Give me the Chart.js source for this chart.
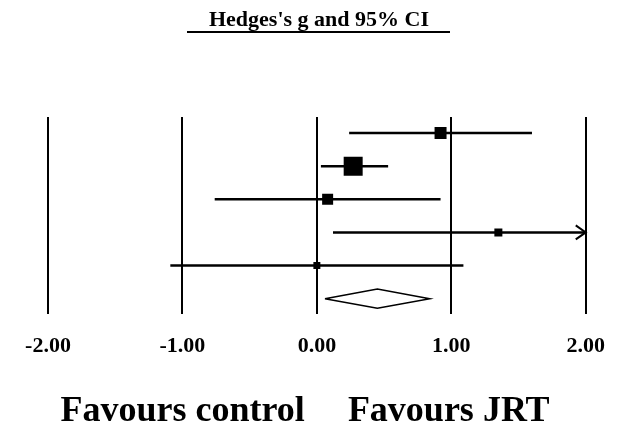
<!DOCTYPE html>
<html>
<head>
<meta charset="utf-8">
<script src="https://cdn.jsdelivr.net/npm/chart.js@4.4.1/dist/chart.umd.min.js"></script>
<style>
  html, body { margin: 0; padding: 0; background: #fff; }
</style>
</head>
<body>
<canvas id="myChart" width="625" height="430"></canvas>
<script>
// study rows (top to bottom), Hedges's g with 95% CI
var studyRows = [1, 2, 3, 4, 5];
var effect = [0.92, 0.27, 0.08, 1.35, 0.00];
var lower = [0.24, 0.03, -0.76, 0.12, -1.09];
var upper = [1.60, 0.53, 0.92, 2.60, 1.09];
var weights = [19.5, 48.9, 16.4, 8.7, 6.6];   // relative weight (%)

// pooled estimate
var summaryRow = 6;
var summaryEst = 0.45;
var summaryLo = 0.06;
var summaryHi = 0.84;

var xTicks = [-2, -1, 0, 1, 2];
var titleText = "Hedges's g and 95% CI";
var leftLabel = 'Favours control';
var rightLabel = 'Favours JRT';

var xMin = xTicks[0], xMax = xTicks[xTicks.length - 1];
var serif = '"Liberation Serif", "Times New Roman", serif';

var datasets = [];

// CI whiskers
studyRows.forEach(function(row, i) {
    datasets.push({
        data: [{x: Math.max(lower[i], xMin), y: row}, {x: Math.min(upper[i], xMax), y: row}],
        showLine: true,
        borderColor: '#000',
        borderWidth: 2.5,
        pointRadius: 0
    });
});

// weighted squares
datasets.push({
    data: studyRows.map(function(row, i) { return {x: effect[i], y: row}; }),
    pointStyle: 'rect',
    pointRadius: weights.map(function(w) { return 1.92 * Math.sqrt(w); }),
    backgroundColor: '#000',
    borderColor: '#000',
    borderWidth: 0
});

// summary diamond
var dh = 0.29;
datasets.push({
    data: [
        {x: summaryLo, y: summaryRow},
        {x: summaryEst, y: summaryRow - dh},
        {x: summaryHi, y: summaryRow},
        {x: summaryEst, y: summaryRow + dh},
        {x: summaryLo, y: summaryRow}
    ],
    showLine: true,
    borderColor: '#000',
    borderWidth: 1.5,
    pointRadius: 0,
    fill: false
});

var forestExtras = {
    id: 'forestExtras',
    afterDraw: function(chart) {
        var ctx = chart.ctx;
        var xs = chart.scales.x, ys = chart.scales.y;
        ctx.save();
        ctx.fillStyle = '#000';
        ctx.strokeStyle = '#000';

        // title with underline
        ctx.font = 'bold 22px ' + serif;
        ctx.textAlign = 'center';
        ctx.textBaseline = 'alphabetic';
        ctx.fillText(titleText, 319, 26);
        ctx.lineWidth = 2;
        ctx.beginPath();
        ctx.moveTo(187, 32);
        ctx.lineTo(450, 32);
        ctx.stroke();

        // arrows where the CI runs past the axis
        studyRows.forEach(function(row, i) {
            var py = ys.getPixelForValue(row);
            if (upper[i] > xMax) {
                var px = xs.getPixelForValue(xMax);
                ctx.lineWidth = 2;
                ctx.beginPath();
                ctx.moveTo(px - 10, py - 7);
                ctx.lineTo(px, py);
                ctx.lineTo(px - 10, py + 7);
                ctx.stroke();
            }
            if (lower[i] < xMin) {
                var qx = xs.getPixelForValue(xMin);
                ctx.lineWidth = 2;
                ctx.beginPath();
                ctx.moveTo(qx + 10, py - 7);
                ctx.lineTo(qx, py);
                ctx.lineTo(qx + 10, py + 7);
                ctx.stroke();
            }
        });

        // favours labels
        var x0 = xs.getPixelForValue(0);
        ctx.font = 'bold 36px ' + serif;
        ctx.textAlign = 'right';
        ctx.fillText(leftLabel, x0 - 12, 421);
        ctx.textAlign = 'left';
        ctx.fillText(rightLabel, x0 + 31, 421);
        ctx.restore();
    }
};

new Chart('myChart', {
    type: 'scatter',
    data: { datasets: datasets },
    options: {
        responsive: false,
        animation: false,
        layout: { padding: { left: 48, right: 38, top: 117, bottom: 50 } },
        plugins: {
            legend: { display: false },
            tooltip: { enabled: false },
            title: { display: false }
        },
        scales: {
            x: {
                type: 'linear',
                min: xMin,
                max: xMax,
                afterBuildTicks: function(axis) {
                    axis.ticks = xTicks.map(function(v) { return {value: v}; });
                },
                ticks: {
                    color: '#000',
                    padding: 20,
                    font: { family: serif, size: 22, weight: 'bold' },
                    callback: function(v) { return Number(v).toFixed(2); }
                },
                grid: { color: '#000', lineWidth: 2, drawTicks: false },
                border: { display: false }
            },
            y: {
                type: 'linear',
                min: 0.515,
                max: 6.45,
                reverse: true,
                display: false
            }
        }
    },
    plugins: [forestExtras]
});
</script>
</body>
</html>
